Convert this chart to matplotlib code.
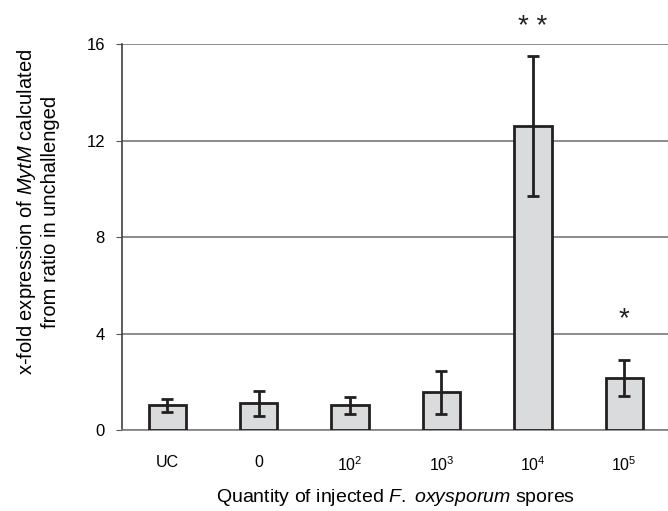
import matplotlib.pyplot as plt
import numpy as np

plt.rcParams["font.family"] = ["Liberation Sans", "DejaVu Sans"]
plt.rcParams["mathtext.fontset"] = "custom"
plt.rcParams["mathtext.rm"] = "Liberation Sans"
plt.rcParams["mathtext.it"] = "Liberation Sans:italic"

# data
groups = ["UC", "0", r"10$^{2}$", r"10$^{3}$", r"10$^{4}$", r"10$^{5}$"]
fold = [1.03, 1.11, 1.02, 1.56, 12.6, 2.14]
err_up = [0.25, 0.51, 0.33, 0.87, 2.9, 0.76]
err_lo = [0.27, 0.51, 0.34, 0.88, 2.9, 0.75]
stars = ["", "", "", "", "* *", "*"]
star_y = [0, 0, 0, 0, 16.42, 4.32]

fig = plt.figure(figsize=(6.68, 5.11), dpi=100)
ax = fig.add_axes([0.182, 0.1585, 0.821, 0.755])

x = np.arange(len(groups))
ax.bar(x, fold, width=0.41, color="#dadbdc", edgecolor="#231f20", linewidth=2, zorder=3)
ax.errorbar(x, fold, yerr=[err_lo, err_up], fmt="none", ecolor="#231f20",
            elinewidth=2, capsize=4, capthick=2, zorder=4)

for xi, s, sy in zip(x, stars, star_y):
    if s:
        ax.text(xi, sy, s, ha="center", va="baseline", fontsize=20, color="#231f20")

ax.set_xlim(-0.5, 5.5)
ax.set_ylim(0, 16)
ax.set_yticks([0, 4, 8, 12, 16])
ax.set_xticks(x)
ax.set_xticklabels(groups, fontsize=11.5)
ax.tick_params(axis="y", labelsize=12, length=4, color="#555555", pad=8)
ax.tick_params(axis="x", length=0, pad=18)
ax.yaxis.grid(True, color="#6e6e6e", linewidth=1.1, zorder=0)
ax.set_axisbelow(True)

for side in ["top", "right"]:
    ax.spines[side].set_visible(False)
ax.spines["left"].set_color("#404040")
ax.spines["bottom"].set_color("#808080")
ax.spines["left"].set_linewidth(1.2)
ax.spines["bottom"].set_linewidth(1.2)

ax.set_ylabel("x-fold expression of $\\mathit{MytM}$ calculated\nfrom ratio in unchallenged",
              fontsize=14.5)
ax.yaxis.set_label_coords(-0.112, 0.565)
ax.set_xlabel(r"Quantity of injected $\mathit{F.\ oxysporum}$ spores", fontsize=14)
ax.xaxis.set_label_coords(0.5, -0.148)

fig.savefig("out.png", dpi=100)
